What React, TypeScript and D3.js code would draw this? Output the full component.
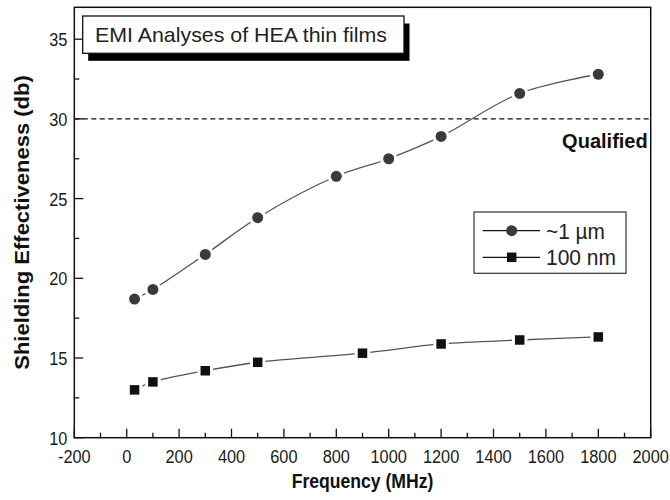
import React from 'react';
import * as d3 from 'd3';

const freq1um = [30, 100, 300, 500, 800, 1000, 1200, 1500, 1800];
const se1um = [18.7, 19.3, 21.5, 23.8, 26.4, 27.5, 28.9, 31.6, 32.8];
const freq100nm = [30, 100, 300, 500, 900, 1200, 1500, 1800];
const se100nm = [13.0, 13.5, 14.2, 14.73, 15.3, 15.88, 16.13, 16.32];
const xTickLabels = [-200, 0, 200, 400, 600, 800, 1000, 1200, 1400, 1600, 1800, 2000];
const yTickLabels = [10, 15, 20, 25, 30, 35];
const qualifiedLevel = 30;
const seriesNames = ['~1 µm', '100 nm'];
const titleText = 'EMI Analyses of HEA thin films';
const xTitle = 'Frequency (MHz)';
const yTitle = 'Shielding Effectiveness (db)';

const W = 670, H = 500;
const L = 74.3, R = 650.7, T = 7.3, B = 437.7;
const FONT = '"Liberation Sans", Arial, sans-serif';

function NText(props: { x: number; y: number; sx?: number; anchor?: string; size: number; bold?: boolean; fill?: string; children: React.ReactNode; rotate?: number }) {
  const { x, y, sx = 0.86, anchor = 'start', size, bold, fill = '#1a1a1a', children, rotate } = props;
  const tr = `translate(${x},${y})${rotate ? ` rotate(${rotate})` : ''} scale(${sx},1)`;
  return (
    <text transform={tr} textAnchor={anchor} fontSize={size} fontWeight={bold ? 'bold' : 'normal'} fill={fill}>{children}</text>
  );
}

export default function App() {
  const x = d3.scaleLinear().domain([-200, 2000]).range([L, R]);
  const y = d3.scaleLinear().domain([10, 37]).range([B, T]);
  const xMinor = d3.range(-200, 2001, 100);
  const yMinor = d3.range(10, 37.01, 2.5);
  const line = d3.line<[number, number]>()
    .x(d => x(d[0])).y(d => y(d[1]))
    .curve(d3.curveCatmullRom.alpha(0.5));
  const pts1 = freq1um.map((f, i) => [f, se1um[i]] as [number, number]);
  const pts2 = freq100nm.map((f, i) => [f, se100nm[i]] as [number, number]);
  const lineColor = '#555';
  const circFill = '#3a3a3a';
  const sqFill = '#111';
  const r = 5.5;
  const s = 9.5;

  return (
    <svg width={W} height={H} style={{ position: 'absolute', left: 0, top: 0, background: '#fff' }} fontFamily={FONT}>
      <rect x={0} y={0} width={W} height={H} fill="#fff" />
      {/* dashed qualified line */}
      <line x1={L} x2={R} y1={y(qualifiedLevel)} y2={y(qualifiedLevel)} stroke="#111" strokeWidth={1.3} strokeDasharray="5,3.5" />
      <NText x={R - 3} y={y(qualifiedLevel) + 29} anchor="end" size={20} bold sx={1.0} fill="#111">Qualified</NText>

      {/* series lines */}
      <path d={line(pts1) || ''} fill="none" stroke={lineColor} strokeWidth={1.3} />
      <path d={line(pts2) || ''} fill="none" stroke={lineColor} strokeWidth={1.3} />
      {/* markers with gaps */}
      {pts1.map((p, i) => (
        <g key={'c' + i}>
          <circle cx={x(p[0])} cy={y(p[1])} r={r + 3} fill="#fff" />
          <circle cx={x(p[0])} cy={y(p[1])} r={r} fill={circFill} />
        </g>
      ))}
      {pts2.map((p, i) => (
        <g key={'s' + i}>
          <rect x={x(p[0]) - s / 2 - 3} y={y(p[1]) - s / 2 - 3} width={s + 6} height={s + 6} fill="#fff" />
          <rect x={x(p[0]) - s / 2} y={y(p[1]) - s / 2} width={s} height={s} fill={sqFill} />
        </g>
      ))}

      {/* frame */}
      <rect x={L} y={T} width={R - L} height={B - T} fill="none" stroke="#111" strokeWidth={1.5} />

      {/* x ticks */}
      {xMinor.map(v => {
        const major = xTickLabels.includes(v);
        return <line key={'xt' + v} x1={x(v)} x2={x(v)} y1={B} y2={B - (major ? 9 : 5)} stroke="#111" strokeWidth={1.3} />;
      })}
      {xTickLabels.map(v => (
        <NText key={'xl' + v} x={x(v)} y={B + 25} anchor="middle" size={19}>{v}</NText>
      ))}
      {/* y ticks */}
      {yMinor.map(v => {
        const major = yTickLabels.includes(v);
        return <line key={'yt' + v} x1={L} x2={L + (major ? 9 : 5)} y1={y(v)} y2={y(v)} stroke="#111" strokeWidth={1.3} />;
      })}
      {yTickLabels.map(v => (
        <NText key={'yl' + v} x={L - 7} y={y(v) + 7} anchor="end" size={19}>{v}</NText>
      ))}

      {/* axis titles */}
      <NText x={(L + R) / 2} y={488} anchor="middle" size={20} bold sx={0.88} fill="#111">{xTitle}</NText>
      <NText x={29} y={(T + B) / 2} rotate={-90} anchor="middle" size={20} bold sx={1.1} fill="#111">{yTitle}</NText>

      {/* title box */}
      <rect x={88.2} y={23.5} width={321.3} height={37.3} fill="#000" />
      <rect x={82.7} y={16} width={321.3} height={37.3} fill="#fff" stroke="#111" strokeWidth={1.3} />
      <text x={95} y={42} fontSize={21} fill="#222" textLength={292} lengthAdjust="spacingAndGlyphs">{titleText}</text>

      {/* legend */}
      <rect x={474} y={212} width={152} height={61.3} fill="#fff" stroke="#333" strokeWidth={1.2} />
      {seriesNames.map((n, i) => {
        const yy = 230.7 + i * 26.6;
        return (
          <g key={'lg' + i}>
            <line x1={482.7} x2={540} y1={yy} y2={yy} stroke="#111" strokeWidth={1.3} />
            {i === 0
              ? <circle cx={511.7} cy={yy} r={r} fill={circFill} />
              : <rect x={511.7 - s / 2} y={yy - s / 2} width={s} height={s} fill={sqFill} />}
            <text x={546} y={yy + 8} fontSize={22} fill="#222" textLength={i === 0 ? 59 : 70} lengthAdjust="spacingAndGlyphs">{n}</text>
          </g>
        );
      })}
    </svg>
  );
}
